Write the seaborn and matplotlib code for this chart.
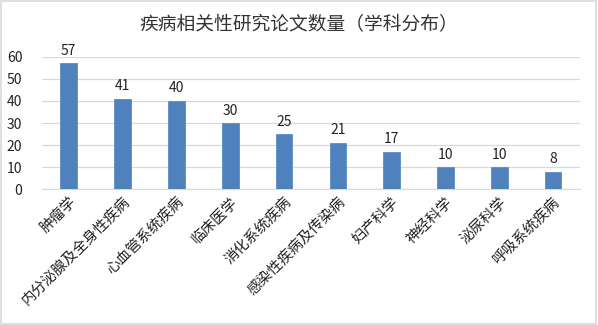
import pandas as pd
import seaborn as sns
import matplotlib.pyplot as plt

categories = ['肿瘤学', '内分泌腺及全身性疾病', '心血管系统疾病', '临床医学', '消化系统疾病',
              '感染性疾病及传染病', '妇产科学', '神经科学', '泌尿科学', '呼吸系统疾病']
counts = [57, 41, 40, 30, 25, 21, 17, 10, 10, 8]
title = '疾病相关性研究论文数量（学科分布）'


def main():
    df = pd.DataFrame({'subject': categories, 'count': counts})

    sns.set_style('white')
    plt.rcParams['font.family'] = ['Noto Sans CJK SC', 'DejaVu Sans']

    fig = plt.figure(figsize=(5.98, 3.25), dpi=100)
    ax = fig.add_axes([0.070, 0.418, 0.900, 0.407])

    sns.barplot(x='subject', y='count', data=df, color='#4f81bd', saturation=1, width=0.31,
                edgecolor='#5b8cc8', linewidth=0.6, zorder=3, ax=ax)

    for i, v in enumerate(counts):
        ax.text(i, v + 2.5, str(v), ha='center', va='bottom', fontsize=10, color='#222222')

    ax.set_ylim(0, 60)
    ax.set_yticks(range(0, 61, 10))
    ax.set_xlim(-0.5, len(categories) - 0.5)
    ax.yaxis.grid(True, color='#d9d9d9', linewidth=0.9, zorder=0)
    ax.set_axisbelow(True)
    for s in ['top', 'right', 'left']:
        ax.spines[s].set_visible(False)
    ax.spines['bottom'].set_color('#d9d9d9')
    ax.set_xlabel('')
    ax.set_ylabel('')
    ax.tick_params(axis='y', length=0, labelsize=10, pad=14, colors='#222222')
    ax.tick_params(axis='x', length=0, labelsize=10.5, pad=4, colors='#222222')
    ax.set_xticks(range(len(categories)))
    ax.set_xticklabels(categories, rotation=45, ha='right', rotation_mode='anchor')

    fig.text(0.5, 0.925, title, ha='center', va='center', fontsize=13.5, color='#333333')

    fig.patches.append(plt.Rectangle((0.002, 0.003), 0.995, 0.993, transform=fig.transFigure,
                                     fill=False, edgecolor='#d9d9d9', linewidth=1.2))
    fig.savefig('out.png', dpi=100)


if (__name__ == '__main__'):
    main()
